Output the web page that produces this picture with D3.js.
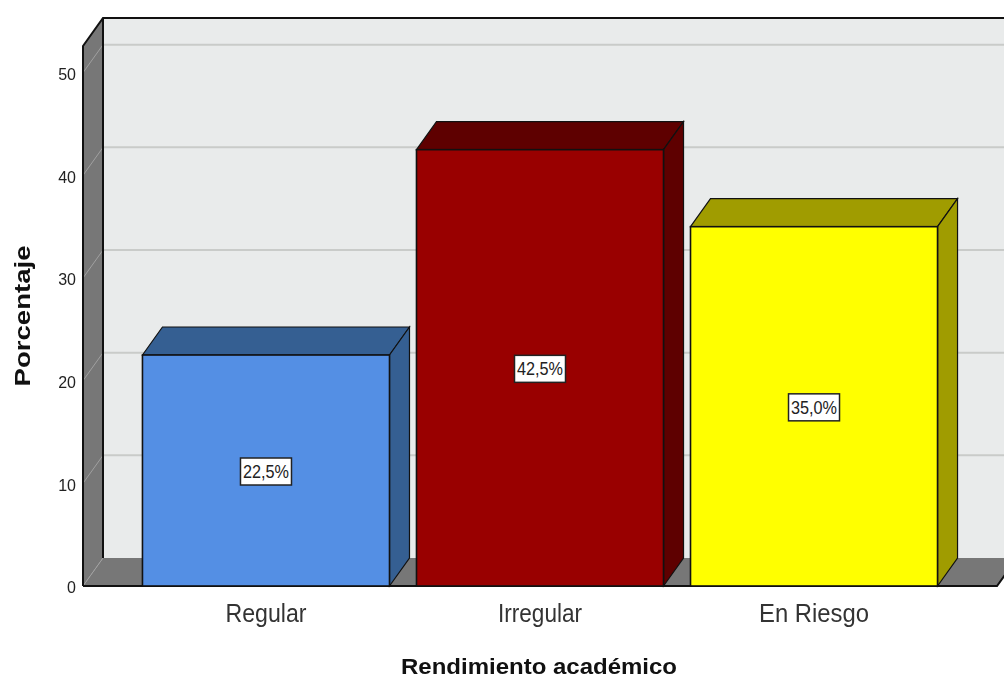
<!DOCTYPE html>
<html>
<head>
<meta charset="utf-8">
<script src="https://cdn.jsdelivr.net/npm/d3@7"></script>
<style>
  html, body { margin: 0; padding: 0; background: #fff; overflow: hidden; }
  svg { display: block; filter: blur(0.45px); }
</style>
</head>
<body>
<div id="chart"></div>
<script>
const categories = ["Regular", "Irregular", "En Riesgo"]
const percentages = [22.5, 42.5, 35.0]
const percentLabels = ["22,5%", "42,5%", "35,0%"]
const frontColors = ["#548fe4", "#990000", "#ffff00"]
const shadeColors = ["#355f92", "#5e0000", "#a09c00"]
const yTicks = [0, 10, 20, 30, 40, 50]

const width = 1004, height = 679
// offset of the back wall from the front plane
const depth = {x: 20, y: -28}
const x0 = 83, x1 = 997, yTop = 46, yBase = 586

const svg = d3.select("#chart").append("svg")
    .attr("width", width)
    .attr("height", height)
    .attr("font-family", "'Liberation Sans', sans-serif")

const x = d3.scaleBand()
    .domain(categories)
    .range([x0, x1])
    .paddingInner(0.0985)
    .paddingOuter(0.217)

const y = d3.scaleLinear()
    .domain([0, 52.6])
    .range([yBase, yTop])

const poly = pts => pts.map(p => p.join(",")).join(" ")
const edge = "#111"

// Back wall
svg.append("rect")
    .attr("x", x0 + depth.x)
    .attr("y", yTop + depth.y)
    .attr("width", width - x0)
    .attr("height", yBase - yTop)
    .attr("fill", "#e9ebeb")

// Left wall and floor
svg.append("polygon")
    .attr("points", poly([[x0, yTop], [x0 + depth.x, yTop + depth.y],
        [x0 + depth.x, yBase + depth.y], [x0, yBase]]))
    .attr("fill", "#777777")
svg.append("polygon")
    .attr("points", poly([[x0, yBase], [x0 + depth.x, yBase + depth.y],
        [x1 + depth.x, yBase + depth.y], [x1, yBase]]))
    .attr("fill", "#777777")

// Gridlines, on back wall and running down the left wall
const grid = svg.append("g").selectAll("g")
    .data(yTicks)
    .join("g")
grid.filter(d => d > 0).append("line")
    .attr("x1", x0 + depth.x)
    .attr("x2", width)
    .attr("y1", d => y(d) + depth.y)
    .attr("y2", d => y(d) + depth.y)
    .attr("stroke", "#c9cbc9")
    .attr("stroke-width", 2)
grid.append("line")
    .attr("x1", x0)
    .attr("x2", x0 + depth.x)
    .attr("y1", d => y(d))
    .attr("y2", d => y(d) + depth.y)
    .attr("stroke", "#a0a0a0")
    .attr("stroke-width", 1)

// Frame lines
svg.append("polyline")
    .attr("points", poly([[x0, yBase], [x0, yTop], [x0 + depth.x, yTop + depth.y],
        [width, yTop + depth.y]]))
    .attr("fill", "none").attr("stroke", edge).attr("stroke-width", 2)
svg.append("line")
    .attr("x1", x0 + depth.x).attr("x2", x0 + depth.x)
    .attr("y1", yTop + depth.y).attr("y2", yBase + depth.y)
    .attr("stroke", edge).attr("stroke-width", 2)
svg.append("polyline")
    .attr("points", poly([[x0, yBase], [x1, yBase], [x1 + depth.x, yBase + depth.y]]))
    .attr("fill", "none").attr("stroke", edge).attr("stroke-width", 2)

// Bars
const bars = svg.append("g").selectAll("g")
    .data(categories)
    .join("g")

bars.each(function (c, i) {
    const g = d3.select(this)
    const l = x(c), r = l + x.bandwidth()
    const t = y(percentages[i]), b = y(0)

    // top face
    g.append("polygon")
        .attr("points", poly([[l, t], [l + depth.x, t + depth.y],
            [r + depth.x, t + depth.y], [r, t]]))
        .attr("fill", shadeColors[i])
        .attr("stroke", edge).attr("stroke-width", 1.2)
    // side face
    g.append("polygon")
        .attr("points", poly([[r, t], [r + depth.x, t + depth.y],
            [r + depth.x, b + depth.y], [r, b]]))
        .attr("fill", shadeColors[i])
        .attr("stroke", edge).attr("stroke-width", 1.2)
    // front face
    g.append("rect")
        .attr("x", l)
        .attr("y", t)
        .attr("width", x.bandwidth())
        .attr("height", b - t)
        .attr("fill", frontColors[i])
        .attr("stroke", edge).attr("stroke-width", 1.6)

    // value label sits half way up the bar
    const cx = (l + r) / 2, cy = y(percentages[i] / 2) + 1
    g.append("rect")
        .attr("x", cx - 25.5)
        .attr("y", cy - 13.5)
        .attr("width", 51)
        .attr("height", 27)
        .attr("fill", "#fff")
        .attr("stroke", "#222")
        .attr("stroke-width", 1.5)
    g.append("text")
        .attr("x", cx)
        .attr("y", cy + 6.5)
        .attr("text-anchor", "middle")
        .attr("font-size", 18)
        .attr("textLength", 46)
        .attr("lengthAdjust", "spacingAndGlyphs")
        .attr("fill", "#222")
        .text(percentLabels[i])
})

// Y tick labels
const yAxis = svg.append("g")
    .attr("transform", `translate(${x0 - 7},0)`)
    .call(d3.axisLeft(y).tickValues(yTicks).tickSize(0).tickPadding(0))
yAxis.select(".domain").remove()
yAxis.selectAll("text")
    .attr("font-family", "'Liberation Sans', sans-serif")
    .attr("font-size", 16)
    .attr("fill", "#222")
    .attr("dy", "0.42em")

// Category labels
svg.append("g").selectAll("text")
    .data(categories)
    .join("text")
    .attr("x", c => x(c) + x.bandwidth() / 2)
    .attr("y", 622)
    .attr("text-anchor", "middle")
    .attr("font-size", 26)
    .attr("fill", "#333")
    .attr("textLength", (c, i) => [81, 84, 110][i])
    .attr("lengthAdjust", "spacingAndGlyphs")
    .text(c => c)

// Axis titles
svg.append("text")
    .attr("x", 539)
    .attr("y", 674)
    .attr("text-anchor", "middle")
    .attr("font-weight", "bold")
    .attr("font-size", 22)
    .attr("textLength", 276)
    .attr("lengthAdjust", "spacingAndGlyphs")
    .attr("fill", "#111")
    .text("Rendimiento académico")

svg.append("text")
    .attr("transform", "translate(30,316) rotate(-90)")
    .attr("text-anchor", "middle")
    .attr("font-weight", "bold")
    .attr("font-size", 22)
    .attr("textLength", 141)
    .attr("lengthAdjust", "spacingAndGlyphs")
    .attr("fill", "#111")
    .text("Porcentaje")
</script>
</body>
</html>
